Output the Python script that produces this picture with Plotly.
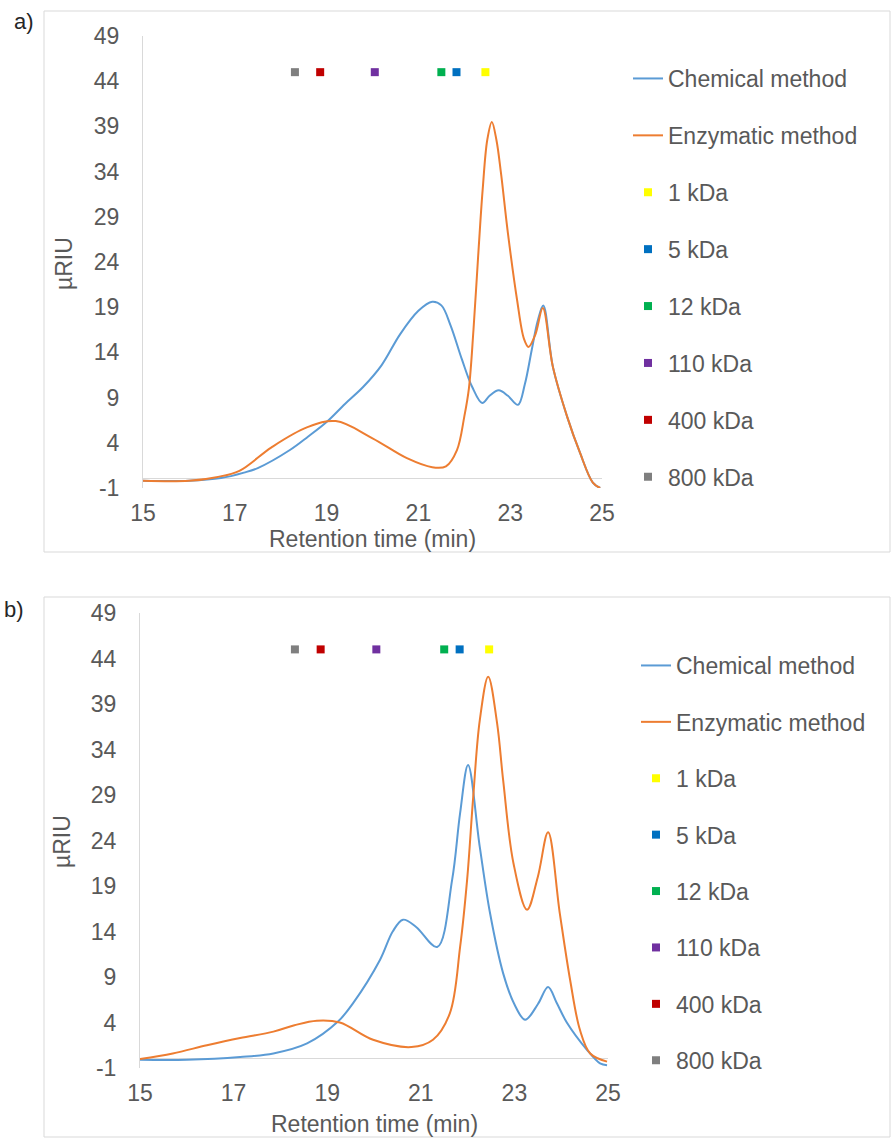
import plotly.graph_objects as go

# Panel a) chromatograms
a_chem_t = [15.0, 16.0, 16.7, 17.2, 17.5, 18.2, 18.6, 19.0, 19.4, 19.8, 20.2, 20.6, 21.0, 21.3, 21.5, 21.7,
            21.95, 22.17, 22.39, 22.55, 22.75, 22.95, 23.17, 23.32, 23.47, 23.6, 23.72, 23.93, 24.24, 24.52, 24.8, 24.96]
a_chem_v = [-0.2, -0.2, 0.1, 0.7, 1.2, 3.2, 4.7, 6.3, 8.3, 10.2, 12.6, 16.0, 18.6, 19.6, 19.2, 17.0,
            13.2, 10.2, 8.4, 9.2, 9.8, 9.2, 8.2, 10.5, 14.3, 17.5, 19.2, 12.4, 6.9, 2.9, -0.4, -1.0]
a_enz_t = [15.0, 16.0, 16.6, 17.1, 17.8, 18.57, 19.2, 20.0, 20.75, 21.3, 21.6, 21.84, 22.0, 22.1, 22.2, 22.3,
           22.4, 22.5, 22.6, 22.7, 22.8, 22.95, 23.15, 23.3, 23.4, 23.55, 23.71, 23.93, 24.24, 24.52, 24.8, 24.96]
a_enz_v = [-0.2, -0.2, 0.2, 0.9, 3.5, 5.7, 6.4, 4.5, 2.3, 1.3, 1.4, 3.2, 6.9, 10.0, 16.5, 24.5,
           32.0, 37.5, 39.5, 37.5, 33.8, 27.2, 19.8, 15.5, 14.6, 16.0, 18.9, 12.4, 6.9, 2.9, -0.4, -1.0]

# Panel b) chromatograms
b_chem_t = [15.0, 16.0, 17.14, 17.85, 18.57, 19.23, 19.55, 20.13, 20.4, 20.62, 20.9, 21.35, 21.67, 21.84, 22.01,
            22.26, 22.48, 22.76, 23.0, 23.23, 23.5, 23.72, 23.9, 24.12, 24.55, 24.83, 24.98]
b_chem_v = [-0.1, -0.1, 0.2, 0.6, 1.7, 4.1, 6.1, 10.9, 14.0, 15.3, 14.5, 12.3, 19.7, 27.0, 32.3,
            23.3, 16.0, 9.4, 6.0, 4.3, 6.0, 7.9, 6.2, 4.0, 1.0, -0.5, -0.7]
b_enz_t = [15.0, 15.7, 16.43, 17.14, 17.85, 18.3, 18.78, 19.27, 19.98, 20.8, 21.26, 21.62, 21.84, 21.99, 22.12,
           22.26, 22.44, 22.63, 22.76, 22.98, 23.27, 23.5, 23.72, 23.97, 24.19, 24.4, 24.62, 24.98]
b_enz_v = [0.0, 0.6, 1.5, 2.3, 3.0, 3.7, 4.2, 4.0, 2.1, 1.3, 2.1, 5.0, 12.3, 19.7, 28.8,
           37.2, 42.0, 36.9, 30.6, 21.5, 16.4, 20.0, 24.9, 16.0, 8.7, 3.2, 0.6, -0.3]

# Molecular-weight standards (elution time, plotted level)
std_names = ["1 kDa", "5 kDa", "12 kDa", "110 kDa", "400 kDa", "800 kDa"]
std_colors = ["#ffff00", "#0070c0", "#00b050", "#7030a0", "#c00000", "#7f7f7f"]
std_t = [22.46, 21.83, 21.5, 20.05, 18.86, 18.31]
std_level = 45

y_ticks = [-1, 4, 9, 14, 19, 24, 29, 34, 39, 44, 49]
y_tick_text = ["-1", "4", "9", "14", "19", "24", "29", "34", "39", "44", "49"]
x_ticks = [15, 17, 19, 21, 23, 25]

W, H = 891, 1138
FONT = "Liberation Sans, Arial, sans-serif"
GREY = "#595959"
BLUE = "#5b9bd5"
ORANGE = "#ed7d31"


def py(p):
    return 1 - p / H


fig = go.Figure()

panels = [
    dict(chem=(a_chem_t, a_chem_v), enz=(a_enz_t, a_enz_v), xa="x", ya="y", lg="legend"),
    dict(chem=(b_chem_t, b_chem_v), enz=(b_enz_t, b_enz_v), xa="x2", ya="y2", lg="legend2"),
]

for i, p in enumerate(panels):
    fig.add_trace(go.Scatter(x=p["chem"][0], y=p["chem"][1], mode="lines", name="Chemical method",
                             line=dict(color=BLUE, width=2, shape="spline", smoothing=1.0),
                             xaxis=p["xa"], yaxis=p["ya"], legend=p["lg"], legendgroup=f"c{i}"))
    fig.add_trace(go.Scatter(x=p["enz"][0], y=p["enz"][1], mode="lines", name="Enzymatic method",
                             line=dict(color=ORANGE, width=2, shape="spline", smoothing=1.0),
                             xaxis=p["xa"], yaxis=p["ya"], legend=p["lg"], legendgroup=f"e{i}"))
    for name, col, t in zip(std_names, std_colors, std_t):
        fig.add_trace(go.Scatter(x=[t], y=[std_level], mode="markers", name=name,
                                 marker=dict(symbol="square", size=8, color=col),
                                 xaxis=p["xa"], yaxis=p["ya"], legend=p["lg"], legendgroup=f"{name}{i}"))

axis_common = dict(showgrid=False, automargin=False, tickfont=dict(family=FONT, size=23, color=GREY))
y_common = dict(range=[-1, 49], tickvals=y_ticks, ticktext=y_tick_text,
                showline=True, linecolor="#d9d9d9", linewidth=1,
                zeroline=True, zerolinecolor="#d9d9d9", zerolinewidth=1,
                ticks="outside", ticklen=18, tickcolor="rgba(0,0,0,0)", **axis_common)
x_common = dict(range=[15, 25], tickvals=x_ticks, showline=False, zeroline=False,
                ticks="outside", ticklen=4, tickcolor="rgba(0,0,0,0)", **axis_common)

fig.update_layout(
    template="none",
    width=W, height=H,
    margin=dict(l=0, r=0, t=0, b=0, pad=0, autoexpand=False),
    paper_bgcolor="white", plot_bgcolor="white",
    font=dict(family=FONT, color=GREY),
    xaxis=dict(domain=[143 / W, 602 / W], anchor="y", **x_common),
    yaxis=dict(domain=[py(488), py(36)], anchor="x", **y_common),
    xaxis2=dict(domain=[140 / W, 608 / W], anchor="y2", **x_common),
    yaxis2=dict(domain=[py(1068), py(613)], anchor="x2", **y_common),
    legend=dict(x=628 / W, y=py(57), xanchor="left", yanchor="top", tracegroupgap=24,
                font=dict(family=FONT, size=23, color=GREY), bgcolor="rgba(0,0,0,0)"),
    legend2=dict(x=636 / W, y=py(644), xanchor="left", yanchor="top", tracegroupgap=23.5,
                 font=dict(family=FONT, size=23, color=GREY), bgcolor="rgba(0,0,0,0)"),
    showlegend=True,
)

# Chart frames
for (x0, y0, x1, y1) in [(44, 11, 890, 552), (44, 597, 890, 1137)]:
    fig.add_shape(type="rect", xref="paper", yref="paper", x0=x0 / W, x1=x1 / W, y0=py(y1), y1=py(y0),
                  line=dict(color="#d9d9d9", width=1), fillcolor="rgba(0,0,0,0)", layer="below")

# Axis titles and panel labels
texts = [
    ("Retention time (min)", 372, 539, 0, 23, GREY),
    ("Retention time (min)", 374, 1124, 0, 23, GREY),
    ("µRIU", 64, 264, -90, 23, GREY),
    ("µRIU", 62, 842, -90, 23, GREY),
    ("a)", 24, 21, 0, 22, "#262626"),
    ("b)", 14, 609, 0, 22, "#262626"),
]
for txt, x, y, ang, size, col in texts:
    fig.add_annotation(text=txt, x=x / W, y=py(y), xref="paper", yref="paper", showarrow=False,
                       xanchor="center", yanchor="middle", textangle=ang,
                       font=dict(family=FONT, size=size, color=col))

fig.write_html("out.html")
